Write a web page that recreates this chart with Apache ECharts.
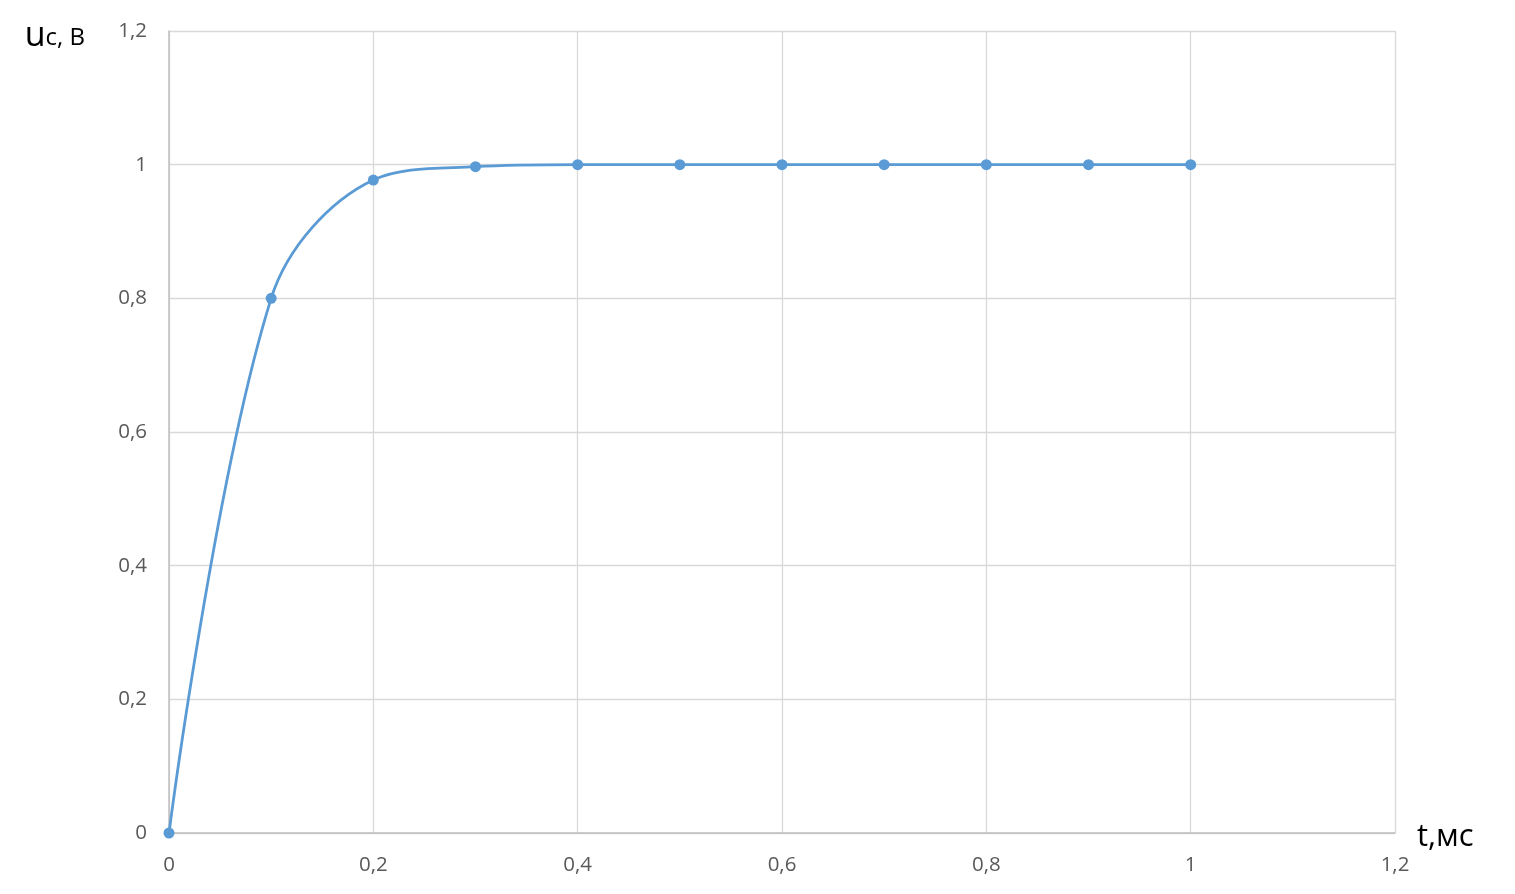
<!DOCTYPE html>
<html><head><meta charset="utf-8">
<script src="https://cdn.jsdelivr.net/npm/echarts@6/dist/echarts.min.js"></script>
<style>html,body{margin:0;padding:0;background:#fff}#c{width:1515px;height:894px}</style>
</head><body><div id="c"></div>
<script>
const tValues = [0, 0.1, 0.2, 0.3, 0.4, 0.5, 0.6, 0.7, 0.8, 0.9, 1.0];
const ucValues = [0, 0.8, 0.977, 0.997, 1.0, 1.0, 1.0, 1.0, 1.0, 1.0, 1.0];
const xAxisName = 't,мс';
const yAxisName = 'uc, В';

const fmt = v => String(Math.round(v * 10) / 10).replace('.', ',');
const chart = echarts.init(document.getElementById('c'));
chart.setOption({
  animation: false,
  grid: {left: 169, right: 120, top: 31, bottom: 61, containLabel: false},
  xAxis: {
    type: 'value', min: 0, max: 1.2, interval: 0.2,
    axisLine: {show: true, lineStyle: {color: '#bfbfbf', width: 1.5}},
    axisTick: {show: false},
    splitLine: {show: true, lineStyle: {color: '#d9d9d9', width: 1.3}},
    axisLabel: {formatter: fmt, color: '#595959', fontSize: 20.5, fontFamily: 'Open Sans', margin: 22},
    name: xAxisName, nameLocation: 'end', nameGap: 22,
    nameTextStyle: {color: '#000', fontSize: 31, fontFamily: 'Open Sans', verticalAlign: 'bottom', padding: [0, 0, -20, 0]}
  },
  yAxis: {
    type: 'value', min: 0, max: 1.2, interval: 0.2,
    axisLine: {show: true, lineStyle: {color: '#bfbfbf', width: 1.5}},
    axisTick: {show: false},
    splitLine: {show: true, lineStyle: {color: '#d9d9d9', width: 1.3}},
    axisLabel: {formatter: fmt, color: '#595959', fontSize: 20.5, fontFamily: 'Open Sans', margin: 22},
    name: '{u|u}{r|c, В}', nameLocation: 'end', nameGap: -22,
    nameTextStyle: {
      align: 'right', padding: [0, 84, 0, 0],
      rich: {
        u: {fontSize: 34, color: '#000', fontFamily: 'Open Sans'},
        r: {fontSize: 24, color: '#000', fontFamily: 'Open Sans', padding: [5, 0, 0, 0]}
      }
    }
  },
  series: [{
    type: 'line',
    data: tValues.map((t, i) => [t, ucValues[i]]),
    smooth: 0.35,
    symbol: 'circle', symbolSize: 11,
    itemStyle: {color: '#5b9bd5'},
    lineStyle: {color: '#5b9bd5', width: 2.8}
  }]
});
</script></body></html>
